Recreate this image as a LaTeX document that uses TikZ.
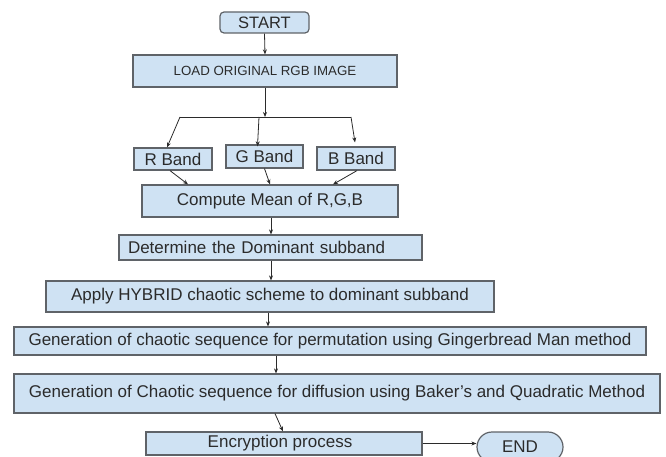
\documentclass[tikz,border=0pt]{standalone}
\usepackage{fontspec}
\setmainfont{Liberation Sans}
\usetikzlibrary{arrows.meta}
\definecolor{boxfill}{HTML}{CFE2F3}
\definecolor{boxline}{HTML}{5F6368}
\definecolor{txt}{HTML}{2B2B2B}
\tikzset{
  x=1pt, y=-1pt,
  box/.style={draw=boxline, fill=boxfill, line width=1.2pt, inner sep=0pt,
    text=txt, font=\fontsize{17}{17}\selectfont, anchor=center},
  arr/.style={draw=txt, line width=0.8pt, -{Stealth[length=5pt,width=4pt]}},
  ln/.style={draw=txt, line width=0.8pt},
}
\begin{document}
\begin{tikzpicture}
\clip (0,0) rectangle (666,457);
\fill[white] (0,0) rectangle (666,457);
\node[box, rounded corners=4pt, minimum width=89pt, minimum height=21pt, font=\fontsize{16.5}{16.5}\selectfont] (start) at (264.5,22.5) {START};
\node[box, minimum width=264pt, minimum height=32pt, font=\fontsize{13.3}{13.3}\selectfont] (load) at (265,71) {LOAD ORIGINAL RGB IMAGE};
\node[box, minimum width=78pt, minimum height=22pt] (rb) at (173,159) {R Band};
\node[box, minimum width=77pt, minimum height=23pt] (gb) at (264.5,156.5) {G Band};
\node[box, minimum width=78pt, minimum height=23pt] (bb) at (356,158.5) {B Band};
\node[box, minimum width=256pt, minimum height=32pt] (cm) at (270,201) {Compute Mean of R,G,B};
\node[box, text width=285pt, inner xsep=9pt, align=left, minimum height=25pt] (dd) at (270.5,247.5) {Determine the Dominant subband};
\node[box, minimum width=448pt, minimum height=31pt] (ap) at (270,296.5) {Apply HYBRID chaotic scheme to dominant subband};
\node[box, minimum width=632pt, minimum height=28pt] (g1) at (330,341) {Generation of chaotic sequence for permutation using Gingerbread Man method};
\node[box, minimum width=646pt, minimum height=39pt] (g2) at (337,393.5) {Generation of Chaotic sequence for diffusion using Baker's and Quadratic Method};
\node[box, minimum width=276pt, minimum height=23pt] (enc) at (284,443.5) {\hspace*{-8pt}Encryption process};
\node[box, rounded corners=15pt, minimum width=86pt, minimum height=30pt] (end) at (520,447) {\raisebox{-3pt}{END}};
% connectors
\coordinate (j) at (265,117);
\coordinate (jl) at (180,117);
\coordinate (jg) at (259,117);
\coordinate (jr) at (351,117);
\draw[arr] (start.south) -- (load.north);
\draw[arr] (load.south) -- (j);
\draw[ln] (jl) -- (jr);
\draw[arr] (jl) -- ([xshift=-6pt]rb.north);
\draw[arr] (jg) -- ([xshift=-7pt,yshift=-2pt]gb.north);
\draw[arr] (jr) -- ([xshift=-1pt,yshift=4pt]bb.north);
\draw[arr] ([xshift=-3pt]rb.south) -- ([xshift=-82pt]cm.north);
\draw[arr] (gb.south) -- (cm.north);
\draw[arr] ([xshift=1pt]bb.south) -- ([xshift=63pt]cm.north);
\draw[arr] ([xshift=1pt]cm.south) -- ([xshift=0.5pt]dd.north);
\draw[arr] ([xshift=0.5pt]dd.south) -- ([xshift=1pt]ap.north);
\draw[arr] ([xshift=-2pt]ap.south) -- ([xshift=-62pt]g1.north);
\draw[arr] ([xshift=-54pt]g1.south) -- ([xshift=-61pt]g2.north);
\draw[arr] ([xshift=-62pt]g2.south) -- ([xshift=-1pt]enc.north);
\draw[arr] (enc.east) -- (end.west |- enc.east);
\end{tikzpicture}
\end{document}
